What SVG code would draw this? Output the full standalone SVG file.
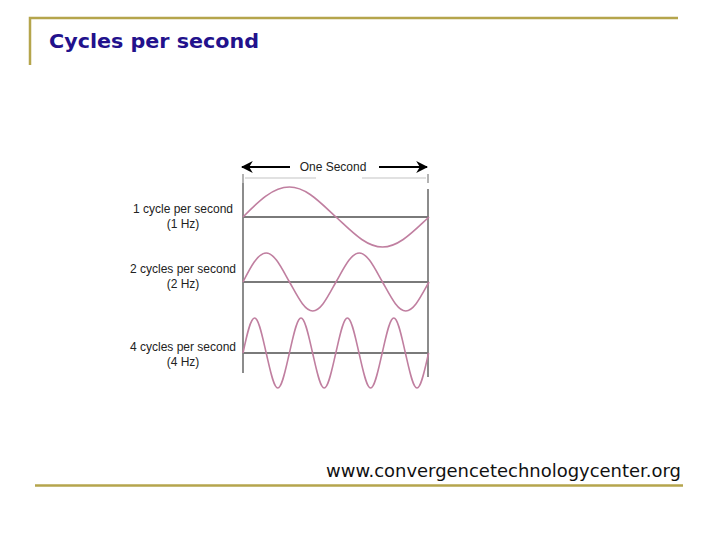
<svg xmlns="http://www.w3.org/2000/svg" width="720" height="540" viewBox="0 0 720 540">
<style>
.frame{stroke:#b5a54c;stroke-width:2.5;fill:none}
.lbl{font-family:"Liberation Sans",Arial,sans-serif;font-size:12px;fill:#222;text-anchor:middle}
.axis{stroke:#7a7a7a;stroke-width:2;fill:none}
.vert{stroke:#8c8c8c;stroke-width:2;fill:none}
.wave{stroke:#c07fa0;stroke-width:1.6;fill:none}
.arr{stroke:#000;stroke-width:2;fill:none}
</style>
<defs>
<marker id="ah" viewBox="0 0 10 10" refX="9" refY="5" markerWidth="6" markerHeight="6" orient="auto-start-reverse" markerUnits="strokeWidth">
<path d="M0,0 L10,5 L0,10 L3,5 Z" fill="#000"/>
</marker>
</defs>
<rect width="720" height="540" fill="#fff"/>
<g id="frame">
<path class="frame" d="M30,65 V18 H678"/>
<path class="frame" d="M35,485.5 H683"/>
</g>
<g id="title">
<text x="49" y="48" font-family="'DejaVu Sans',Verdana,sans-serif" font-weight="bold" font-size="20" fill="#22118c" textLength="210" lengthAdjust="spacingAndGlyphs">Cycles per second</text>
</g>
<g id="connectors">
<line class="arr" x1="290" y1="167" x2="242" y2="167" marker-end="url(#ah)"/>
<line class="arr" x1="379" y1="167" x2="427" y2="167" marker-end="url(#ah)"/>
<path d="M245,178 H316 M362,178 H426" stroke="#c4c4c4" stroke-width="1.2" fill="none"/>
<path d="M243,174 V183 M428,174 V183" stroke="#9a9a9a" stroke-width="1.5" fill="none"/>
</g>
<g id="one-second">
<text x="333" y="171" class="lbl" fill="#111">One Second</text>
</g>
<g id="graph">
<line class="vert" x1="243" y1="183" x2="243" y2="373"/>
<line class="vert" x1="428" y1="189" x2="428" y2="377"/>
</g>
<g id="panel-1hz">
<line class="axis" x1="243" y1="217" x2="429" y2="217"/>
<path class="wave" d="M243,217 c15.55,-15.75 29.76,-30 46.5,-30 s30.95,15.75 46.5,30 s29.76,30 46.5,30 s30.95,-15.75 46.5,-30"/>
<text class="lbl" x="183" y="213">1 cycle per second</text>
<text class="lbl" x="183" y="228">(1 Hz)</text>
</g>
<g id="panel-2hz">
<line class="axis" x1="243" y1="282" x2="429" y2="282"/>
<path class="wave" d="M243,282 c7.77,-15.23 14.88,-29 23.25,-29 s15.48,15.23 23.25,29 s14.88,29 23.25,29 s15.48,-15.23 23.25,-29 s14.88,-29 23.25,-29 s15.48,15.23 23.25,29 s14.88,29 23.25,29 s15.48,-15.23 23.25,-29"/>
<text class="lbl" x="183" y="273">2 cycles per second</text>
<text class="lbl" x="183" y="288">(2 Hz)</text>
</g>
<g id="panel-4hz">
<line class="axis" x1="243" y1="353" x2="428" y2="353"/>
<path class="wave" d="M243,353 c3.88,-18.38 7.43,-35 11.6,-35 s7.72,18.38 11.6,35 s7.43,35 11.6,35 s7.72,-18.38 11.6,-35 s7.43,-35 11.6,-35 s7.72,18.38 11.6,35 s7.43,35 11.6,35 s7.72,-18.38 11.6,-35 s7.43,-35 11.6,-35 s7.72,18.38 11.6,35 s7.43,35 11.6,35 s7.72,-18.38 11.6,-35 s7.43,-35 11.6,-35 s7.72,18.38 11.6,35 s7.43,35 11.6,35 s7.72,-18.38 11.6,-35"/>
<text class="lbl" x="183" y="351">4 cycles per second</text>
<text class="lbl" x="183" y="366">(4 Hz)</text>
</g>
<g id="url">
<text x="326" y="477" font-family="'DejaVu Sans',Verdana,sans-serif" font-size="17" fill="#111" textLength="355" lengthAdjust="spacingAndGlyphs">www.convergencetechnologycenter.org</text>
</g>
</svg>
